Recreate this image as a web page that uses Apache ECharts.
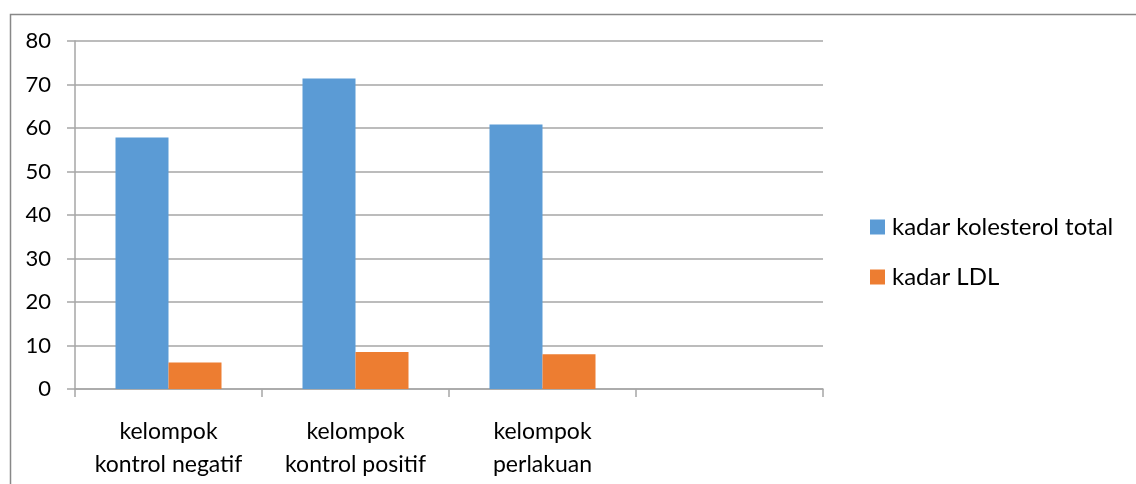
<!DOCTYPE html>
<html>
<head>
<meta charset="utf-8">
<style>
  html, body { margin: 0; padding: 0; background: #fff; }
  #chart { width: 1136px; height: 484px; }
</style>
<script src="https://cdn.jsdelivr.net/npm/echarts@6/dist/echarts.min.js"></script>
</head>
<body>
<div id="chart"></div>
<script>
// Group labels (last slot is an empty group on the axis)
const categories = ['kelompok\nkontrol negatif', 'kelompok\nkontrol positif', 'kelompok\nperlakuan', ''];
// Series values
const totalCholesterol = [57.8, 71.4, 60.8, null];
const ldl = [6.1, 8.5, 8.0, null];
const seriesNames = ['kadar kolesterol total', 'kadar LDL'];
// Value-axis ticks
const yMin = 0, yMax = 80, yStep = 10;

const FONT = 'Lato, "Open Sans", sans-serif';
const GRID_GRAY = '#A6A6A6';

const chart = echarts.init(document.getElementById('chart'), null, { renderer: 'canvas' });
chart.setOption({
  animation: false,
  backgroundColor: '#ffffff',
  graphic: [{
    type: 'rect',
    left: 8, top: 12,
    shape: { width: 1200, height: 600 },
    style: { fill: 'none', stroke: '#888888', lineWidth: 1.5 },
    silent: true
  }],
  grid: { left: 75, right: 313, top: 41, bottom: 95, containLabel: false },
  legend: {
    orient: 'vertical',
    left: 865, top: 210,
    itemWidth: 15, itemHeight: 15,
    itemGap: 26,
    icon: 'rect',
    textStyle: { fontFamily: FONT, fontSize: 24, color: '#000', padding: [0, 0, 0, 2] },
    data: seriesNames
  },
  xAxis: {
    type: 'category',
    data: categories,
    axisLine: { lineStyle: { color: GRID_GRAY, width: 1.5 } },
    axisTick: { show: true, alignWithLabel: false, length: 8, lineStyle: { color: GRID_GRAY, width: 1.5 } },
    axisLabel: {
      interval: 0, margin: 26,
      fontFamily: FONT, fontSize: 23, color: '#000', lineHeight: 33
    }
  },
  yAxis: {
    type: 'value',
    min: yMin, max: yMax, interval: yStep,
    axisLine: { show: true, lineStyle: { color: GRID_GRAY, width: 1.5 } },
    axisTick: { show: true, length: 8, lineStyle: { color: GRID_GRAY, width: 1.5 } },
    splitLine: { show: true, lineStyle: { color: GRID_GRAY, width: 1.5 } },
    axisLabel: { margin: 24, fontFamily: FONT, fontSize: 22, color: '#000' }
  },
  series: [
    {
      name: seriesNames[0], type: 'bar', data: totalCholesterol,
      barWidth: 53, barGap: '0%',
      itemStyle: { color: '#5B9BD5' }
    },
    {
      name: seriesNames[1], type: 'bar', data: ldl,
      barWidth: 53, barGap: '0%',
      itemStyle: { color: '#ED7D31' }
    }
  ]
});
</script>
</body>
</html>
